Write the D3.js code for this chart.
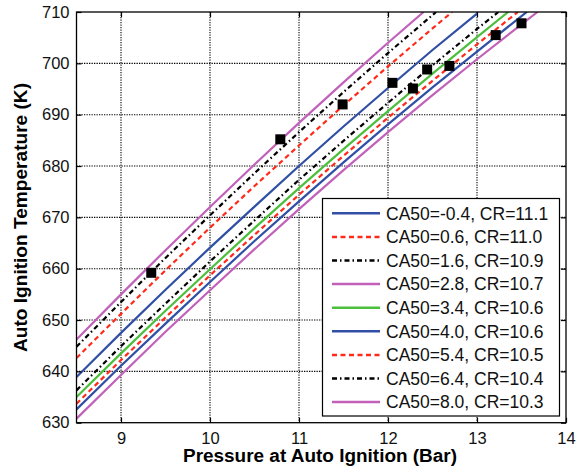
<!DOCTYPE html>
<html><head><meta charset="utf-8">
<script src="https://cdn.jsdelivr.net/npm/d3@7"></script>
<style>body{margin:0;background:#fff}svg{display:block}</style>
</head><body>
<svg id="c" width="580" height="469"></svg>
<script>
// ---- data ----
const xTicks = [9, 10, 11, 12, 13, 14];
const yTicks = [630, 640, 650, 660, 670, 680, 690, 700, 710];
const labels = ["CA50=-0.4, CR=11.1","CA50=0.6, CR=11.0","CA50=1.6, CR=10.9","CA50=2.8, CR=10.7","CA50=3.4, CR=10.6","CA50=4.0, CR=10.6","CA50=5.4, CR=10.5","CA50=6.4, CR=10.4","CA50=8.0, CR=10.3"];
const colors = ["#3150a5","#ff2a1a","#000000","#c261b9","#4cbf3c","#3150a5","#ff2a1a","#000000","#c261b9"];
const dashes = [null,"5,3.5","5,3,1.5,3",null,null,null,"5,3.5","5,3,1.5,3",null];
const xs1 = [8.5, 9.0, 9.5, 10.0, 10.5, 11.0, 11.5, 12.0, 12.5, 13.0];
const s1 = [638.9, 647.5, 655.9, 664.1, 672.1, 680.0, 687.7, 695.2, 702.6, 709.7];
const xs2 = [8.5, 9.0, 9.5, 10.0, 10.5, 11.0, 11.5, 12.0, 12.5, 12.72];
const s2 = [642.6, 651.2, 659.7, 668.0, 676.1, 684.0, 691.8, 699.4, 706.8, 710];
const xs3 = [8.5, 9.0, 9.5, 10.0, 10.5, 11.0, 11.5, 12.0, 12.5, 12.54];
const s3 = [644.8, 653.5, 662.1, 670.4, 678.6, 686.6, 694.4, 702.0, 709.4, 710];
const xs4 = [8.5, 9.0, 9.5, 10.0, 10.5, 11.0, 11.5, 12.0, 12.4];
const s4 = [646.2, 655.0, 663.6, 672.0, 680.3, 688.4, 696.3, 704.0, 710];
const xs5 = [8.5, 9.0, 9.5, 10.0, 10.5, 11.0, 11.5, 12.0, 12.5, 13.0, 13.35];
const s5 = [635.0, 643.5, 651.8, 659.9, 667.9, 675.7, 683.3, 690.7, 698.0, 705.1, 710];
const xs6 = [8.5, 9.0, 9.5, 10.0, 10.5, 11.0, 11.5, 12.0, 12.5, 13.0, 13.5, 13.56];
const s6 = [632.6, 641.1, 649.3, 657.4, 665.4, 673.1, 680.7, 688.1, 695.3, 702.3, 709.2, 710];
const xs7 = [8.5, 9.0, 9.5, 10.0, 10.5, 11.0, 11.5, 12.0, 12.5, 13.0, 13.46];
const s7 = [633.7, 642.2, 650.5, 658.7, 666.6, 674.4, 682.0, 689.4, 696.6, 703.7, 710];
const xs8 = [8.5, 9.0, 9.5, 10.0, 10.5, 11.0, 11.5, 12.0, 12.5, 13.0, 13.24];
const s8 = [636.3, 644.9, 653.2, 661.4, 669.4, 677.3, 684.9, 692.3, 699.6, 706.7, 710];
const xs9 = [8.5, 9.0, 9.5, 10.0, 10.5, 11.0, 11.5, 12.0, 12.5, 13.0, 13.5, 13.68];
const s9 = [630.8, 639.3, 647.7, 655.8, 663.8, 671.6, 679.2, 686.6, 693.8, 700.8, 707.6, 710];
const markX = [9.34, 10.79, 11.49, 12.05, 12.28, 12.44, 12.69, 13.21, 13.50];
const markY = [659.2, 685.2, 692.0, 696.2, 695.1, 698.8, 699.5, 705.5, 707.8];

const seriesX = [xs1, xs2, xs3, xs4, xs5, xs6, xs7, xs8, xs9];
const seriesY = [s1, s2, s3, s4, s5, s6, s7, s8, s9];

// ---- layout ----
const L = 76.5, R = 566, T = 12, B = 422.7;
const svg = d3.select("#c");
const x = d3.scaleLinear().domain([8.5, 14]).range([L, R]);
const y = d3.scaleLinear().domain([630, 710]).range([B, T]);
const font = "Arial, 'Liberation Sans', Helvetica, sans-serif";

svg.append("defs").append("clipPath").attr("id","clip")
  .append("rect").attr("x", L).attr("y", T).attr("width", R - L).attr("height", B - T);

// grid
const grid = svg.append("g").attr("stroke", "#000").attr("stroke-width", 1.1).attr("stroke-dasharray", "1.3,1.2");
xTicks.filter(v => v < 14).forEach(v => grid.append("line").attr("x1", x(v)).attr("x2", x(v)).attr("y1", T).attr("y2", B));
yTicks.filter(v => v > 630 && v < 710).forEach(v => grid.append("line").attr("x1", L).attr("x2", R).attr("y1", y(v)).attr("y2", y(v)));

// curves
const plot = svg.append("g").attr("clip-path", "url(#clip)");
const line = d3.line().x(d => x(d[0])).y(d => y(d[1]));
seriesY.forEach((ys, i) => {
  const pts = ys.map((v, j) => [seriesX[i][j], v]);
  plot.append("path").attr("d", line(pts)).attr("fill", "none")
    .attr("stroke", colors[i]).attr("stroke-width", 2.2)
    .attr("stroke-dasharray", dashes[i]);
});

// markers
markX.forEach((mx, i) => {
  svg.append("rect").attr("x", x(mx) - 5).attr("y", y(markY[i]) - 5)
    .attr("width", 10).attr("height", 10).attr("fill", "#000");
});

// axes (box with inward ticks)
const axB = d3.axisBottom(x).tickValues(xTicks).tickSizeInner(-5).tickSizeOuter(0).tickPadding(10).tickFormat(d3.format("d"));
const axL = d3.axisLeft(y).tickValues(yTicks).tickSizeInner(-5).tickSizeOuter(0).tickPadding(7).tickFormat(d3.format("d"));
const axT = d3.axisTop(x).tickValues(xTicks).tickSizeInner(-5).tickSizeOuter(0).tickFormat("");
const axR = d3.axisRight(y).tickValues(yTicks).tickSizeInner(-5).tickSizeOuter(0).tickFormat("");
function style(g) {
  g.select(".domain").remove();
  g.selectAll("line").attr("stroke", "#000").attr("stroke-width", 1.2);
  g.selectAll("text").attr("font-family", font).attr("font-size", 16.5).attr("fill", "#111");
}
svg.append("g").attr("transform", `translate(0,${B})`).call(axB).call(style);
svg.append("g").attr("transform", `translate(${L},0)`).call(axL).call(style);
svg.append("g").attr("transform", `translate(0,${T})`).call(axT).call(style);
svg.append("g").attr("transform", `translate(${R},0)`).call(axR).call(style);
svg.append("rect").attr("x", L).attr("y", T).attr("width", R - L).attr("height", B - T)
  .attr("fill", "none").attr("stroke", "#000").attr("stroke-width", 1.3);

// axis titles
svg.append("text").attr("x", 320).attr("y", 462).attr("text-anchor", "middle")
  .attr("font-family", font).attr("font-weight", "bold").attr("font-size", 18)
  .attr("textLength", 274).attr("lengthAdjust", "spacingAndGlyphs")
  .text("Pressure at Auto Ignition (Bar)");
svg.append("text").attr("transform", "translate(27,217.5) rotate(-90)").attr("text-anchor", "middle")
  .attr("font-family", font).attr("font-weight", "bold").attr("font-size", 18)
  .attr("textLength", 269).attr("lengthAdjust", "spacingAndGlyphs")
  .text("Auto Ignition Temperature (K)");

// legend
const lg = svg.append("g");
lg.append("rect").attr("x", 322.5).attr("y", 198.5).attr("width", 237).attr("height", 217.5)
  .attr("fill", "#fff").attr("stroke", "#000").attr("stroke-width", 1.2);
labels.forEach((t, i) => {
  const cy = 213.3 + i * 23.6;
  lg.append("line").attr("x1", 332).attr("x2", 380).attr("y1", cy).attr("y2", cy)
    .attr("stroke", colors[i]).attr("stroke-width", 2.5).attr("stroke-dasharray", dashes[i]);
  lg.append("text").attr("x", 386).attr("y", cy + 6.3).attr("font-family", font)
    .attr("font-size", 17.5).attr("fill", "#111").text(t);
});
</script>
</body></html>
